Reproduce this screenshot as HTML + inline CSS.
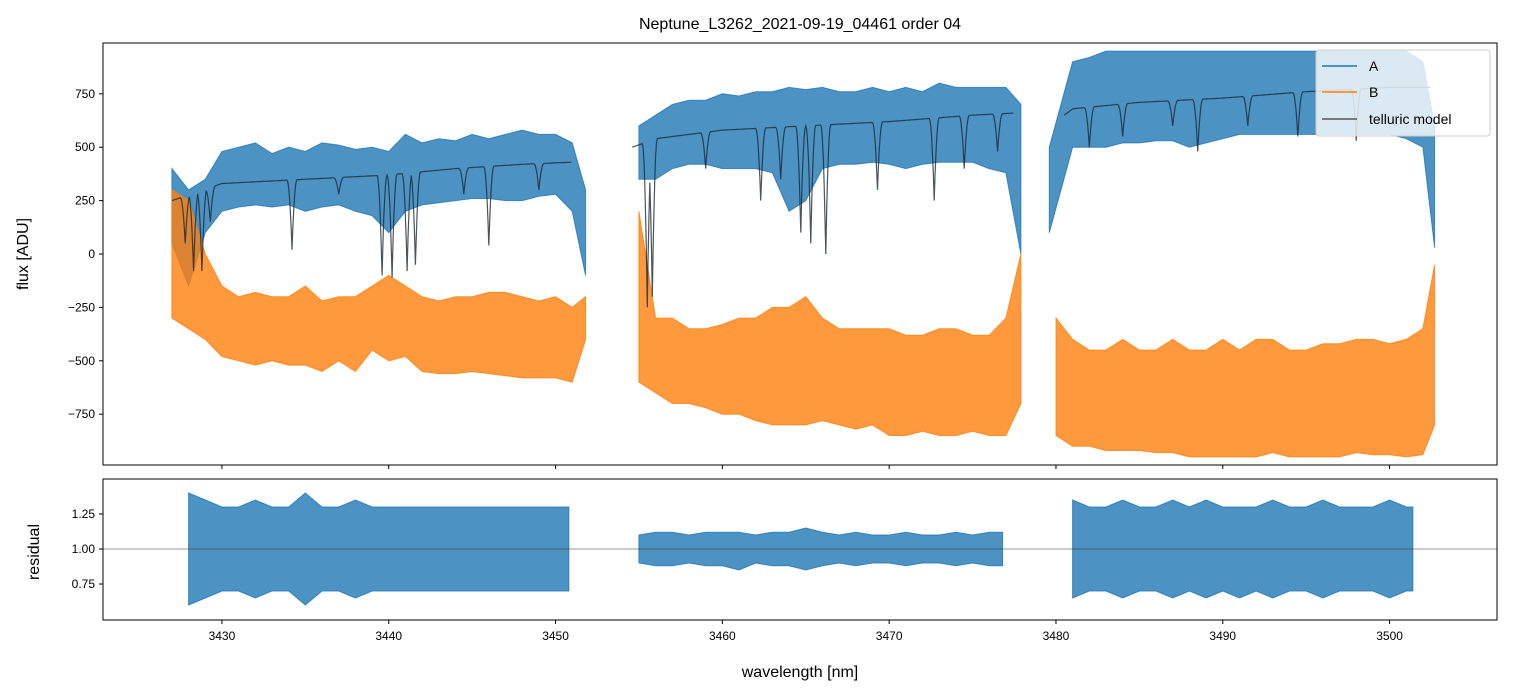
<!DOCTYPE html>
<html><head><meta charset="utf-8">
<style>
html,body{margin:0;padding:0;background:#fff;}
svg{display:block;font-family:"Liberation Sans","DejaVu Sans",sans-serif;}
</style></head>
<body>
<svg id="chart" width="1513" height="696" viewBox="0 0 1513 696" xmlns="http://www.w3.org/2000/svg">
<text x="800" y="29" text-anchor="middle" font-size="16">Neptune_L3262_2021-09-19_04461  order 04</text>
<g id="topPanel"></g>
<g id="botPanel"></g>
<text transform="translate(28,254) rotate(-90)" text-anchor="middle" font-size="16">flux [ADU]</text>
<text transform="translate(39,552) rotate(-90)" text-anchor="middle" font-size="16">residual</text>
<text x="800" y="677" text-anchor="middle" font-size="16">wavelength [nm]</text>
</svg>
<script>
// ---- data (1 nm bins, envelopes; last bin sits at segment end) ----
const segStarts = [3427, 3455, 3480];
const segEnds = [3451.8, 3477.9, 3502.7];
const aStart3 = 3479.6;
const aHi1 = [400,300,350,480,500,520,470,500,480,520,510,490,500,480,560,520,540,530,560,540,560,580,560,560,520,300];
const aLo1 = [50,-150,100,200,220,230,220,230,200,220,230,200,180,100,200,230,240,250,260,260,250,250,270,280,200,-100];
const aHi2 = [600,650,700,720,720,750,740,760,760,780,770,780,760,760,780,760,780,760,800,780,780,780,780,700];
const aLo2 = [350,350,400,420,420,400,400,400,380,200,250,400,420,420,430,420,400,420,430,430,430,400,380,0];
const aHi3 = [500,900,920,950,950,950,950,950,950,950,950,950,950,950,950,950,950,950,950,950,950,950,900,600];
const aLo3 = [100,500,500,500,520,520,530,530,500,520,540,560,560,560,560,560,560,560,560,560,560,540,500,30];
const bHi1 = [300,250,0,-150,-200,-180,-200,-200,-150,-220,-200,-200,-150,-100,-150,-200,-220,-200,-200,-180,-180,-200,-220,-200,-250,-200];
const bLo1 = [-300,-350,-400,-480,-500,-520,-500,-520,-520,-550,-500,-550,-450,-500,-480,-550,-560,-560,-550,-560,-570,-580,-580,-580,-600,-400];
const bHi2 = [200,-300,-300,-350,-350,-330,-300,-300,-250,-250,-200,-300,-350,-350,-350,-350,-380,-380,-350,-350,-380,-380,-300,0];
const bLo2 = [-600,-650,-700,-700,-720,-750,-750,-780,-800,-800,-800,-780,-800,-820,-800,-850,-850,-830,-850,-850,-830,-850,-850,-700];
const bHi3 = [-300,-400,-450,-450,-400,-450,-450,-400,-450,-450,-400,-450,-400,-400,-450,-450,-420,-420,-400,-400,-420,-400,-350,-50];
const bLo3 = [-850,-900,-900,-920,-920,-920,-930,-930,-950,-950,-950,-950,-950,-930,-950,-950,-950,-950,-930,-940,-940,-950,-940,-800];
// telluric model: baseline knots and absorption line minima
const modelX1 = [3427,3430,3435,3440,3444,3448,3451];
const modelY1 = [250,330,350,370,400,420,430];
const modelX2 = [3454.6,3456,3460,3465,3470,3475,3477.5];
const modelY2 = [500,540,580,600,620,650,660];
const modelX3 = [3480.5,3481,3485,3490,3495,3500,3502.5];
const modelY3 = [650,680,710,730,760,780,780];
const dipW = [3427.8,3428.3,3428.8,3429.3,3434.2,3437,3439.6,3440.2,3441.1,3441.6,3444.5,3446,3449,
  3455.5,3455.8,3459,3462.3,3463.5,3464.7,3465.3,3466.2,3469.3,3472.7,3474.5,3476.5,
  3482,3484,3487,3488.5,3491.5,3494.5,3498];
const dipMin = [50,-80,-80,150,20,280,-100,-110,-80,-50,280,40,300,
  -250,-200,400,250,350,100,50,0,300,250,400,480,
  500,550,600,480,600,550,530];
// residuals
const rStarts = [3428, 3455, 3481];
const rEnds = [3450.8, 3476.8, 3501.4];
const rHi1 = [1.4,1.35,1.3,1.3,1.35,1.3,1.3,1.4,1.3,1.3,1.35,1.3,1.3,1.3,1.3,1.3,1.3,1.3,1.3,1.3,1.3,1.3,1.3,1.3];
const rLo1 = [0.6,0.65,0.7,0.7,0.65,0.7,0.7,0.6,0.7,0.7,0.65,0.7,0.7,0.7,0.7,0.7,0.7,0.7,0.7,0.7,0.7,0.7,0.7,0.7];
const rHi2 = [1.1,1.12,1.12,1.1,1.12,1.12,1.12,1.1,1.12,1.12,1.15,1.12,1.1,1.12,1.1,1.1,1.12,1.1,1.1,1.12,1.1,1.12,1.12];
const rLo2 = [0.9,0.88,0.88,0.9,0.88,0.88,0.85,0.9,0.88,0.88,0.85,0.88,0.9,0.88,0.9,0.9,0.88,0.9,0.9,0.88,0.9,0.88,0.88];
const rHi3 = [1.35,1.3,1.3,1.35,1.3,1.3,1.35,1.3,1.35,1.3,1.3,1.3,1.35,1.3,1.3,1.35,1.3,1.3,1.3,1.35,1.3,1.3];
const rLo3 = [0.65,0.7,0.7,0.65,0.7,0.7,0.65,0.7,0.65,0.7,0.65,0.7,0.65,0.7,0.7,0.65,0.7,0.7,0.7,0.65,0.7,0.7];
const xTicks = [3430,3440,3450,3460,3470,3480,3490,3500];
const yTicks = [750,500,250,0,-250,-500,-750];
const rTicks = [1.25,1.00,0.75];

// ---- axes ----
const X0=103,X1=1497,xmin=3422.87,xmax=3506.44;
const T0=43,T1=465,ymin=-988,ymax=988;
const B0=479,B1=620,rmin=0.493,rmax=1.5;
const sx=w=>X0+(w-xmin)/(xmax-xmin)*(X1-X0);
const sy=v=>T1-(Math.max(ymin,Math.min(ymax,v))-ymin)/(ymax-ymin)*(T1-T0);
const sr=v=>B1-(Math.max(rmin,Math.min(rmax,v))-rmin)/(rmax-rmin)*(B1-B0);
const NS="http://www.w3.org/2000/svg";
function mk(tag,attrs,parent){const e=document.createElementNS(NS,tag);for(const k in attrs)e.setAttribute(k,attrs[k]);parent.appendChild(e);return e;}
const topG=document.getElementById('topPanel'), botG=document.getElementById('botPanel');
const svgEl=document.getElementById('chart');

function band(start,end,hi,lo,ys,color,parent,name,first){
  const wl=i=>{ if(i===0 && first!==undefined) return first; return i===hi.length-1?end:start+i; };
  let pts=[];
  hi.forEach((v,i)=>pts.push(sx(wl(i)).toFixed(1)+','+ys(v).toFixed(1)));
  for(let i=lo.length-1;i>=0;i--)pts.push(sx(wl(i)).toFixed(1)+','+ys(lo[i]).toFixed(1));
  const p=mk('polygon',{points:pts.join(' '),fill:color,'fill-opacity':0.8,stroke:color,'stroke-opacity':0.8,'stroke-width':1},parent);
  
  
}
band(segStarts[0],segEnds[0],aHi1,aLo1,sy,'#1f77b4',topG,'series-a-seg1');
band(segStarts[1],segEnds[1],aHi2,aLo2,sy,'#1f77b4',topG,'series-a-seg2');
band(segStarts[2],segEnds[2],aHi3,aLo3,sy,'#1f77b4',topG,'series-a-seg3',aStart3);
band(segStarts[0],segEnds[0],bHi1,bLo1,sy,'#ff7f0e',topG,'series-b-seg1');
band(segStarts[1],segEnds[1],bHi2,bLo2,sy,'#ff7f0e',topG,'series-b-seg2');
band(segStarts[2],segEnds[2],bHi3,bLo3,sy,'#ff7f0e',topG,'series-b-seg3');

function interp(xs,ys,w){if(w<=xs[0])return ys[0];for(let i=1;i<xs.length;i++)if(w<=xs[i]){const t=(w-xs[i-1])/(xs[i]-xs[i-1]);return ys[i-1]+t*(ys[i]-ys[i-1]);}return ys[ys.length-1];}
function modelPath(xs,ys,name){
  let d='';
  for(let w=xs[0];w<=xs[xs.length-1];w+=0.05){
    const base=interp(xs,ys,w); let v=base;
    dipW.forEach((c,i)=>{const dist=Math.abs(w-c);if(dist<0.3){const f=1-dist/0.3;v=Math.min(v,base-(base-dipMin[i])*f*f);}});
    d+=(d?'L':'M')+sx(w).toFixed(1)+','+sy(v).toFixed(1);
  }
  const p=mk('path',{d:d,fill:'none',stroke:'#1a2a36','stroke-opacity':0.8,'stroke-width':1.2},topG);
  
  
}
modelPath(modelX1,modelY1,'telluric-model-seg1');
modelPath(modelX2,modelY2,'telluric-model-seg2');
modelPath(modelX3,modelY3,'telluric-model-seg3');

band(rStarts[0],rEnds[0],rHi1,rLo1,sr,'#1f77b4',botG,'residual-seg1');
band(rStarts[1],rEnds[1],rHi2,rLo2,sr,'#1f77b4',botG,'residual-seg2');
band(rStarts[2],rEnds[2],rHi3,rLo3,sr,'#1f77b4',botG,'residual-seg3');
const ref=mk('line',{x1:X0,x2:X1,y1:sr(1),y2:sr(1),stroke:'#333','stroke-width':0.6},botG);



// frames
[[T0,T1,'flux-frame'],[B0,B1,'residual-frame']].forEach(f=>{
  const r=mk('rect',{x:X0,y:f[0],width:X1-X0,height:f[1]-f[0],fill:'none',stroke:'#000','stroke-width':1},svgEl);
  
  
});
// ticks
xTicks.forEach(t=>{
  mk('line',{x1:sx(t),x2:sx(t),y1:T1,y2:T1+4,stroke:'#000'},svgEl);
  mk('line',{x1:sx(t),x2:sx(t),y1:B1,y2:B1+4,stroke:'#000'},svgEl);
  const e=mk('text',{x:sx(t),y:B1+20,'text-anchor':'middle','font-size':12},svgEl);
  e.textContent=t;
  
  
});
yTicks.forEach(t=>{
  mk('line',{x1:X0-4,x2:X0,y1:sy(t),y2:sy(t),stroke:'#000'},svgEl);
  const e=mk('text',{x:X0-8,y:sy(t)+4,'text-anchor':'end','font-size':12},svgEl);
  e.textContent=t<0?'\u2212'+(-t):t;
  
  
});
rTicks.forEach(t=>{
  mk('line',{x1:X0-4,x2:X0,y1:sr(t),y2:sr(t),stroke:'#000'},svgEl);
  const e=mk('text',{x:X0-8,y:sr(t)+4,'text-anchor':'end','font-size':12},svgEl);
  e.textContent=t.toFixed(2);
  
  
});
// legend
const lg=mk('g',{},svgEl);


mk('rect',{x:1316,y:50,width:174,height:86,rx:3,fill:'#fff','fill-opacity':0.8,stroke:'#ccc'},lg);
[['A','#1f77b4',66],['B','#ff7f0e',92],['telluric model','#555',119]].forEach(e=>{
  const g=mk('g',{},lg);
  
  
  mk('line',{x1:1322,x2:1357,y1:e[2],y2:e[2],stroke:e[1],'stroke-width':1.5},g);
  const t=mk('text',{x:1369,y:e[2]+5,'font-size':14},g);
  t.textContent=e[0];
});
</script>
</body></html>
